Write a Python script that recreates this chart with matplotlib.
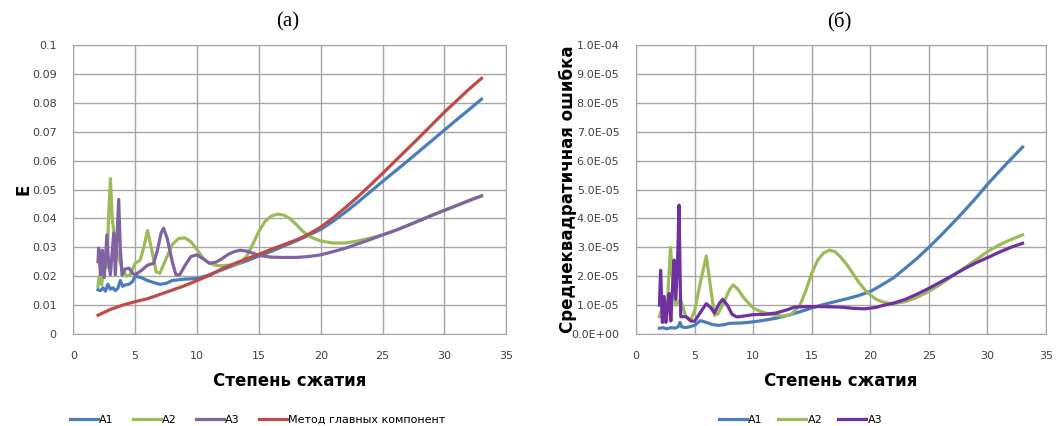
import numpy as np
import matplotlib
matplotlib.use("Agg")
import matplotlib.pyplot as plt
from matplotlib.ticker import MultipleLocator, FuncFormatter

# --- данные (а): ошибка E от степени сжатия ---
x_a1 = [2.0, 2.2, 2.4, 2.6, 2.8, 3.0, 3.2, 3.4, 3.6, 3.8, 4.0, 4.2, 4.5, 4.8, 5.0, 5.5,
        6, 6.5, 7, 7.5, 8, 9, 10, 11, 12, 13, 14, 15, 16, 17, 18, 19, 20, 21, 22, 23,
        24, 25, 26, 27, 28, 29, 30, 31, 32, 33]
e_a1 = [0.0153, 0.0150, 0.0160, 0.0148, 0.0172, 0.0155, 0.0160, 0.0150, 0.0158, 0.0185,
        0.0165, 0.0170, 0.0172, 0.0182, 0.0200, 0.0195, 0.0185, 0.0178, 0.0172, 0.0175,
        0.0185, 0.0190, 0.0192, 0.0205, 0.0222, 0.0238, 0.0253, 0.0270, 0.0286, 0.0304,
        0.0322, 0.0341, 0.0362, 0.0390, 0.0422, 0.0456, 0.0492, 0.0528, 0.0563, 0.0598,
        0.0634, 0.0670, 0.0706, 0.0742, 0.0777, 0.0813]

x_a2 = [2.0, 2.1, 2.3, 2.5, 2.7, 2.85, 3.0, 3.15, 3.4, 3.7, 4.0, 4.3, 4.6, 5.0, 5.4, 5.7,
        6.0, 6.3, 6.7, 7.0, 7.5, 8.0, 8.5, 9.0, 9.5, 10.0, 10.5, 11.0, 11.5, 12, 12.5, 13,
        13.5, 14, 14.5, 15, 15.5, 16, 16.5, 17, 17.5, 18, 18.5, 19, 19.5, 20, 21, 22, 23,
        24, 25, 26, 27, 28, 29, 30, 31, 32, 33]
e_a2 = [0.0165, 0.0200, 0.0170, 0.0260, 0.0230, 0.0400, 0.0538, 0.0400, 0.0310, 0.0260,
        0.0220, 0.0200, 0.0205, 0.0245, 0.0255, 0.0300, 0.0358, 0.0300, 0.0215, 0.0210,
        0.0260, 0.0310, 0.0330, 0.0333, 0.0320, 0.0292, 0.0262, 0.0245, 0.0238, 0.0236,
        0.0238, 0.0240, 0.0248, 0.0268, 0.0310, 0.0355, 0.0390, 0.0408, 0.0415, 0.0412,
        0.0400, 0.0380, 0.0358, 0.0340, 0.0330, 0.0322, 0.0315, 0.0315, 0.0322, 0.0332,
        0.0343, 0.0358, 0.0375, 0.0393, 0.0411, 0.0428, 0.0445, 0.0462, 0.0478]

x_a3 = [2.0, 2.05, 2.2, 2.35, 2.5, 2.72, 2.85, 3.0, 3.27, 3.4, 3.67, 3.8, 3.94, 4.2, 4.5,
        4.8, 5.0, 5.5, 6.0, 6.5, 6.8, 7.1, 7.3, 7.6, 8.0, 8.3, 8.6, 9.0, 9.5, 10.0, 10.5,
        11.0, 11.5, 12, 12.5, 13, 13.5, 14, 14.5, 15, 16, 17, 18, 19, 20, 21, 22, 23, 24,
        25, 26, 27, 28, 29, 30, 31, 32, 33]
e_a3 = [0.0250, 0.0297, 0.0205, 0.0290, 0.0195, 0.0343, 0.0250, 0.0205, 0.0350, 0.0205,
        0.0466, 0.0300, 0.0204, 0.0225, 0.0228, 0.0210, 0.0205, 0.0220, 0.0238, 0.0245,
        0.0290, 0.0350, 0.0366, 0.0330, 0.0250, 0.0205, 0.0205, 0.0235, 0.0268, 0.0274,
        0.0260, 0.0245, 0.0248, 0.0260, 0.0275, 0.0285, 0.0290, 0.0287, 0.0280, 0.0272,
        0.0266, 0.0265, 0.0265, 0.0268, 0.0274, 0.0285, 0.0297, 0.0312, 0.0327, 0.0343,
        0.0358, 0.0375, 0.0393, 0.0411, 0.0428, 0.0445, 0.0462, 0.0478]

x_pca = list(range(2, 34))
e_pca = [0.0065, 0.0085, 0.0100, 0.0112, 0.0122, 0.0137, 0.0152, 0.0167, 0.0185, 0.0203,
         0.0225, 0.0243, 0.0260, 0.0276, 0.0293, 0.0309, 0.0325, 0.0345, 0.0370, 0.0402,
         0.0438, 0.0475, 0.0515, 0.0556, 0.0598, 0.0640, 0.0682, 0.0725, 0.0768, 0.0808,
         0.0848, 0.0885]

# --- данные (б): среднеквадратичная ошибка, в единицах 1e-5 ---
x_b1 = [2.0, 2.3, 2.6, 3.0, 3.3, 3.6, 3.75, 3.9, 4.2, 4.6, 5.0, 5.5, 6.0, 6.5, 7.0, 7.5,
        8, 9, 10, 11, 12, 13, 14, 15, 16, 17, 18, 19, 20, 21, 22, 23, 24, 25, 26, 27, 28,
        29, 30, 31, 32, 33]
m_b1 = [0.20, 0.22, 0.18, 0.22, 0.20, 0.25, 0.40, 0.25, 0.22, 0.25, 0.30, 0.46, 0.40, 0.33,
        0.30, 0.32, 0.37, 0.38, 0.42, 0.48, 0.55, 0.65, 0.77, 0.90, 1.02, 1.12, 1.22, 1.33,
        1.47, 1.70, 1.95, 2.28, 2.62, 3.00, 3.40, 3.82, 4.25, 4.70, 5.18, 5.62, 6.05, 6.47]

x_b2 = [2.0, 2.3, 2.6, 2.8, 2.95, 3.1, 3.4, 3.8, 4.25, 4.7, 5.0, 5.5, 6.0, 6.3, 6.7, 7.0,
        7.5, 8.0, 8.3, 8.7, 9.2, 10.0, 10.5, 11.5, 12.5, 13.2, 14.0, 14.5, 15.0, 15.5, 16.0,
        16.5, 17.0, 17.5, 18.0, 18.5, 19.0, 19.5, 20.0, 20.5, 21.0, 21.5, 22.0, 23, 24, 25,
        26, 27, 28, 29, 30, 31, 32, 33]
m_b2 = [0.6, 1.0, 0.5, 2.0, 3.0, 2.0, 1.0, 1.2, 0.6, 0.5, 0.8, 1.8, 2.7, 1.8, 0.65, 0.70,
        1.10, 1.55, 1.70, 1.55, 1.25, 0.90, 0.80, 0.67, 0.62, 0.66, 1.00, 1.50, 2.10, 2.55,
        2.80, 2.90, 2.85, 2.65, 2.40, 2.10, 1.80, 1.55, 1.35, 1.20, 1.12, 1.07, 1.05, 1.12,
        1.27, 1.47, 1.72, 2.00, 2.28, 2.56, 2.85, 3.08, 3.27, 3.43]

x_b3 = [2.0, 2.1, 2.25, 2.4, 2.55, 2.7, 2.83, 2.97, 3.1, 3.25, 3.4, 3.55, 3.67, 3.82, 4.25,
        4.67, 5.0, 5.5, 6.0, 6.4, 6.7, 7.1, 7.4, 7.8, 8.2, 8.6, 9.2, 10.0, 11, 12, 13, 13.5,
        14.5, 15.5, 16.5, 17.5, 18.5, 19.5, 20.5, 21.0, 22, 23, 24, 25, 26, 27, 28, 29, 30,
        31, 32, 33]
m_b3 = [1.0, 2.2, 0.4, 1.3, 0.4, 1.0, 1.4, 0.45, 1.5, 2.56, 1.2, 2.5, 4.46, 0.6, 0.6, 0.45,
        0.44, 0.75, 1.05, 0.90, 0.73, 1.05, 1.20, 1.00, 0.68, 0.59, 0.62, 0.67, 0.68, 0.73,
        0.85, 0.93, 0.95, 0.95, 0.94, 0.93, 0.89, 0.87, 0.92, 0.98, 1.07, 1.20, 1.38, 1.58,
        1.80, 2.02, 2.25, 2.46, 2.64, 2.83, 3.00, 3.14]

blue = "#4a7ebb"
green = "#9bbb59"
purple = "#8064a2"
purple2 = "#7030a0"
red = "#be4b48"
gridc = "#a6a6a6"
lw = 2.3

fig = plt.figure(figsize=(10.56, 4.26), dpi=100)
ax1 = fig.add_axes([0.0694, 0.216, 0.410, 0.678])
ax2 = fig.add_axes([0.6023, 0.216, 0.3882, 0.678])

ax1.plot(x_a1, e_a1, color=blue, lw=lw, label="A1", solid_joinstyle="round")
ax1.plot(x_a2, e_a2, color=green, lw=lw, label="A2", solid_joinstyle="round")
ax1.plot(x_a3, e_a3, color=purple, lw=lw, label="A3", solid_joinstyle="round")
ax1.plot(x_pca, e_pca, color=red, lw=lw, label="Метод главных компонент",
         solid_joinstyle="round")

ax2.plot(x_b1, np.array(m_b1) * 1e-5, color=blue, lw=lw, label="A1", solid_joinstyle="round")
ax2.plot(x_b2, np.array(m_b2) * 1e-5, color=green, lw=lw, label="A2", solid_joinstyle="round")
ax2.plot(x_b3, np.array(m_b3) * 1e-5, color=purple2, lw=lw, label="A3",
         solid_joinstyle="round")

for ax in (ax1, ax2):
    ax.set_xlim(0, 35)
    ax.xaxis.set_major_locator(MultipleLocator(5))
    ax.grid(True, color=gridc, lw=1)
    ax.set_axisbelow(True)
    for s in ax.spines.values():
        s.set_color(gridc)
    ax.tick_params(length=0, labelsize=8, colors="#404040")
    ax.tick_params(axis="x", pad=12)
    ax.tick_params(axis="y", pad=12)
    ax.set_xlabel("Степень сжатия", fontsize=12, fontweight="bold")
    ax.xaxis.set_label_coords(0.5, -0.13)

ax1.set_ylim(0, 0.1)
ax1.yaxis.set_major_locator(MultipleLocator(0.01))
ax1.yaxis.set_major_formatter(FuncFormatter(lambda v, p: "0" if v == 0 else f"{v:.2f}".rstrip("0")))
ax1.set_ylabel("E", fontsize=12, fontweight="bold")
ax1.yaxis.set_label_coords(-0.095, 0.5)

ax2.set_ylim(0, 1e-4)
ax2.yaxis.set_major_locator(MultipleLocator(1e-5))
ax2.yaxis.set_major_formatter(FuncFormatter(lambda v, p: f"{v:.1E}"))
ax2.set_ylabel("Среднеквадратичная ошибка", fontsize=12, fontweight="bold")
ax2.yaxis.set_label_coords(-0.145, 0.5)

fig.text(0.272, 0.948, "(а)", family="Liberation Serif", fontsize=15, ha="center", va="center")
fig.text(0.795, 0.948, "(б)", family="Liberation Serif", fontsize=15, ha="center", va="center")

ax1.legend(loc="center", bbox_to_anchor=(0.244, 0.014), bbox_transform=fig.transFigure,
           ncol=4, frameon=False, fontsize=8, handlelength=2.5, handletextpad=0.15,
           columnspacing=1.7)
ax2.legend(loc="center", bbox_to_anchor=(0.758, 0.014), bbox_transform=fig.transFigure,
           ncol=3, frameon=False, fontsize=8, handlelength=2.5, handletextpad=0.15,
           columnspacing=1.4)

fig.savefig("out.png", dpi=100)
